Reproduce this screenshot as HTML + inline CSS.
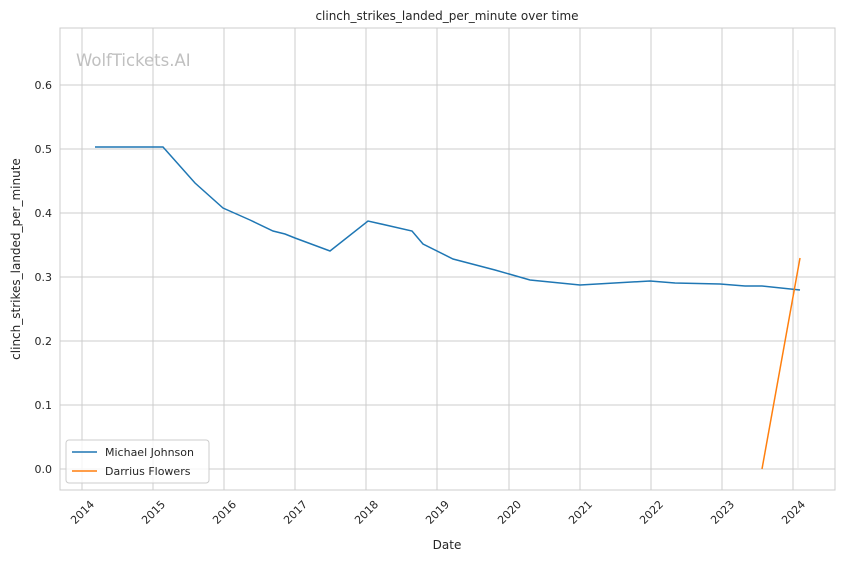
<!DOCTYPE html>
<html><head><meta charset="utf-8"><style>
body{margin:0;background:#fff;}
svg{font-family:"DejaVu Sans","Liberation Sans",sans-serif;}
</style></head><body>
<svg width="844" height="561" viewBox="0 0 844 561" xmlns="http://www.w3.org/2000/svg">
<rect width="844" height="561" fill="#fff"/>
<g stroke="#cccccc" stroke-width="1">
<line x1="60" x2="835" y1="469" y2="469"/><line x1="60" x2="835" y1="405" y2="405"/>
<line x1="60" x2="835" y1="341" y2="341"/><line x1="60" x2="835" y1="277" y2="277"/>
<line x1="60" x2="835" y1="213" y2="213"/><line x1="60" x2="835" y1="149" y2="149"/>
<line x1="60" x2="835" y1="85" y2="85"/>
<line x1="82" x2="82" y1="28" y2="490"/><line x1="153" x2="153" y1="28" y2="490"/>
<line x1="224" x2="224" y1="28" y2="490"/><line x1="295" x2="295" y1="28" y2="490"/>
<line x1="366" x2="366" y1="28" y2="490"/><line x1="437" x2="437" y1="28" y2="490"/>
<line x1="509" x2="509" y1="28" y2="490"/><line x1="580" x2="580" y1="28" y2="490"/>
<line x1="651" x2="651" y1="28" y2="490"/><line x1="722" x2="722" y1="28" y2="490"/>
<line x1="793" x2="793" y1="28" y2="490"/>
</g>
<rect x="60" y="28" width="775" height="462" fill="none" stroke="#cccccc"/>
<line x1="798" x2="798" y1="50" y2="469" stroke="#e6e6e6"/>
<text x="76" y="66" font-size="16.5" fill="#c0c0c0">WolfTickets.AI</text>
<polyline fill="none" stroke="#1f77b4" stroke-width="1.5" points="95,147 163,147 195,183 223,208 250,220 273,231 285,234 295,238 330,251 368,221 412,231 423,244 453,259 495,270 530,280 580,285 650,281 675,283 720,284 745,286 762,286 800,290"/>
<polyline fill="none" stroke="#ff7f0e" stroke-width="1.5" points="762,469 800,258"/>
<g font-size="11" fill="#262626" text-anchor="end">
<text x="52" y="473">0.0</text><text x="52" y="409">0.1</text><text x="52" y="345">0.2</text>
<text x="52" y="281">0.3</text><text x="52" y="217">0.4</text><text x="52" y="153">0.5</text><text x="52" y="89">0.6</text>
</g>
<g font-size="11" fill="#262626" text-anchor="end">
<text transform="translate(95,505) rotate(-45)">2014</text>
<text transform="translate(166,505) rotate(-45)">2015</text>
<text transform="translate(237,505) rotate(-45)">2016</text>
<text transform="translate(308,505) rotate(-45)">2017</text>
<text transform="translate(379,505) rotate(-45)">2018</text>
<text transform="translate(450,505) rotate(-45)">2019</text>
<text transform="translate(522,505) rotate(-45)">2020</text>
<text transform="translate(593,505) rotate(-45)">2021</text>
<text transform="translate(664,505) rotate(-45)">2022</text>
<text transform="translate(735,505) rotate(-45)">2023</text>
<text transform="translate(806,505) rotate(-45)">2024</text>
</g>
<text x="447" y="549" font-size="12" fill="#262626" text-anchor="middle">Date</text>
<text transform="translate(20,259) rotate(-90)" font-size="12" fill="#262626" text-anchor="middle">clinch_strikes_landed_per_minute</text>
<text x="447" y="20" font-size="12" fill="#262626" text-anchor="middle">clinch_strikes_landed_per_minute over time</text>
<rect x="66" y="440" width="143" height="43" rx="3" fill="#fff" fill-opacity="0.8" stroke="#cccccc"/>
<line x1="72" x2="97" y1="452" y2="452" stroke="#1f77b4" stroke-width="1.5"/>
<line x1="72" x2="97" y1="471" y2="471" stroke="#ff7f0e" stroke-width="1.5"/>
<text x="105" y="456" font-size="11" fill="#262626">Michael Johnson</text>
<text x="105" y="475" font-size="11" fill="#262626">Darrius Flowers</text>
</svg>
</body></html>
